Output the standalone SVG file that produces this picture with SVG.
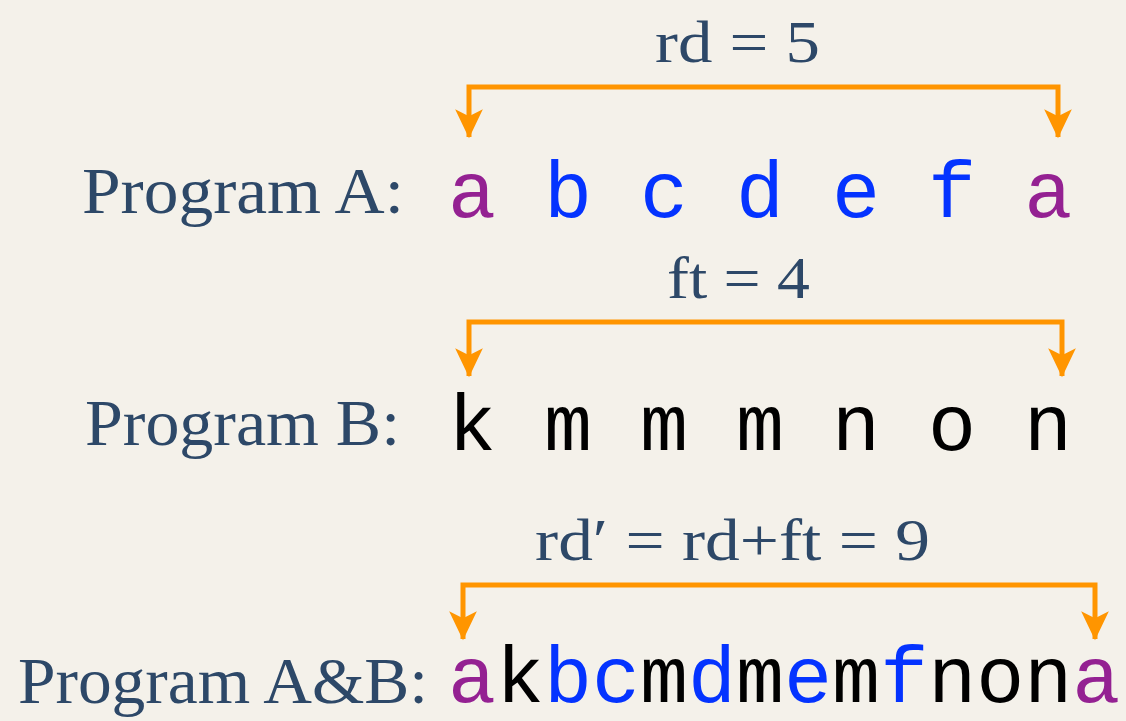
<svg xmlns="http://www.w3.org/2000/svg" width="1126" height="721" viewBox="0 0 1126 721">
  <style>
    .lbl { font-family: "Liberation Serif", "DejaVu Serif", serif; fill: #2D4868; }
    .prog { font-size: 66px; }
    .eq { font-size: 60px; }
    .mono { font-family: "Liberation Mono", "DejaVu Sans Mono", monospace; font-size: 80px; fill: #000000; }
    .pu { fill: #942192; }
    .bl { fill: #0433FF; }
    .bk { fill: #000000; }
    .br { fill: none; stroke: #FF9500; stroke-width: 5; marker-start: url(#ah); marker-end: url(#ah); }
  </style>
  <defs>
    <marker id="ah" markerUnits="userSpaceOnUse" markerWidth="30" markerHeight="30" viewBox="0 -13 26 26" refX="24" refY="0" orient="auto-start-reverse">
      <path d="M0,-12 L25,0 L0,12 L6,0 Z" fill="#FF9500"/>
    </marker>
  </defs>
  <rect x="0" y="0" width="1126" height="721" fill="#F4F1EA"/>

  <g id="connectors">
    <path class="br" d="M469,137 V87 H1058 V137"/>
    <path class="br" d="M469,376 V322 H1062 V376"/>
    <path class="br" d="M463,639 V585 H1095 V639"/>
  </g>

  <g id="label-rd">
    <text class="lbl eq" x="655" y="62" textLength="165" lengthAdjust="spacingAndGlyphs">rd = 5</text>
  </g>
  <g id="programA">
    <text class="lbl prog" x="82" y="213" textLength="322" lengthAdjust="spacingAndGlyphs">Program A:</text>
    <text class="mono" x="448" y="217" xml:space="preserve"><tspan class="pu">a</tspan> <tspan class="bl">b c d e f</tspan> <tspan class="pu">a</tspan></text>
  </g>
  <g id="label-ft">
    <text class="lbl eq" x="667" y="298" textLength="143" lengthAdjust="spacingAndGlyphs">ft = 4</text>
  </g>
  <g id="programB">
    <text class="lbl prog" x="85" y="445" textLength="315" lengthAdjust="spacingAndGlyphs">Program B:</text>
    <text class="mono" x="448" y="450" xml:space="preserve">k m m m n o n</text>
  </g>
  <g id="label-rd2">
    <text class="lbl eq" x="535" y="560" textLength="395" lengthAdjust="spacingAndGlyphs">rd′ = rd+ft = 9</text>
  </g>
  <g id="programAB">
    <text class="lbl prog" x="18" y="703" textLength="410" lengthAdjust="spacingAndGlyphs">Program A&amp;B:</text>
    <text class="mono" x="448" y="702"><tspan class="pu">a</tspan><tspan class="bk">k</tspan><tspan class="bl">bc</tspan><tspan class="bk">m</tspan><tspan class="bl">d</tspan><tspan class="bk">m</tspan><tspan class="bl">e</tspan><tspan class="bk">m</tspan><tspan class="bl">f</tspan><tspan class="bk">non</tspan><tspan class="pu">a</tspan></text>
  </g>
</svg>
